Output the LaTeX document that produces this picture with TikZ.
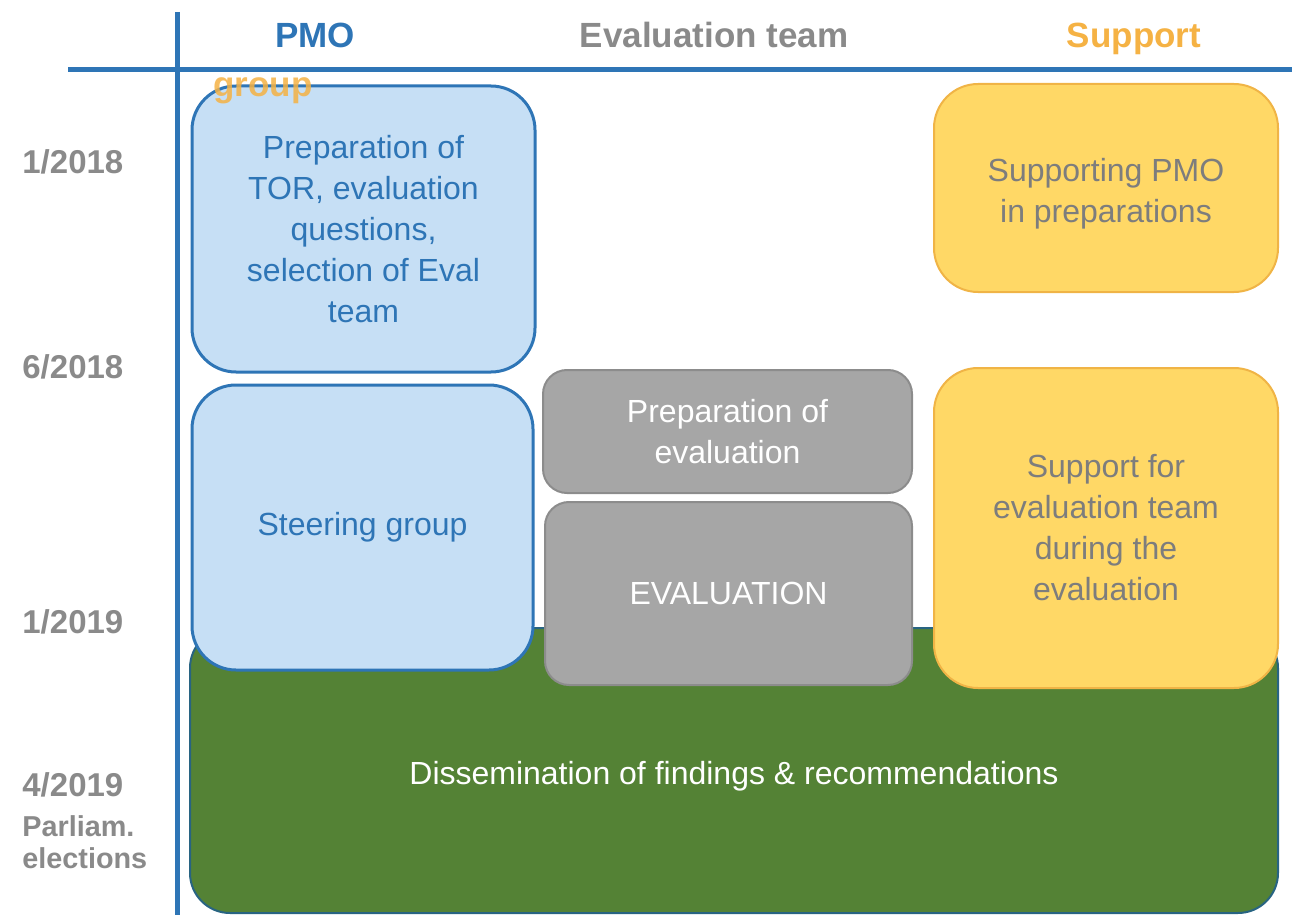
\documentclass[tikz,border=0pt]{standalone}
\usepackage{fontspec}
\setmainfont{Liberation Sans}
\usepackage{tikz}

\definecolor{pmoblue}{RGB}{46,117,182}
\definecolor{pmofill}{RGB}{198,223,245}
\definecolor{evalgray}{RGB}{166,166,166}
\definecolor{evaledge}{RGB}{140,140,140}
\definecolor{labelgray}{RGB}{138,138,138}
\definecolor{supfill}{RGB}{255,216,102}
\definecolor{supedge}{RGB}{240,180,70}
\definecolor{suporange}{RGB}{245,178,68}
\definecolor{supgray}{RGB}{125,125,125}
\definecolor{dissgreen}{RGB}{84,130,53}
\definecolor{dissedge}{RGB}{40,100,130}

\begin{document}
\begin{tikzpicture}[x=0.5pt,y=-0.5pt]
    \tikzset{box/.style={rounded corners=22pt, align=center, inner sep=0pt,
        font=\fontsize{16}{20.5}\selectfont}}
    \tikzset{pmobox/.style={box, fill=pmofill, draw=pmoblue, line width=1.5pt, text=pmoblue}}
    \tikzset{evalbox/.style={box, rounded corners=12pt, fill=evalgray, draw=evaledge, line width=1pt, text=white}}
    \tikzset{supbox/.style={box, fill=supfill, draw=supedge, line width=1pt, text=supgray}}
    \tikzset{dissbox/.style={box, rounded corners=20pt, fill=dissgreen, draw=dissedge, line width=1pt, text=white}}
    \tikzset{headlabel/.style={anchor=base, font=\fontsize{17.5}{20}\selectfont\bfseries, inner sep=0pt}}
    \tikzset{datelabel/.style={anchor=west, text=labelgray, inner sep=0pt, font=\fontsize{16.5}{20}\selectfont\bfseries}}
    \useasboundingbox (0,0) rectangle (1292,915);
    % axes
    \coordinate (hl) at (68,70);
    \coordinate (hr) at (1292,70);
    \coordinate (vt) at (177,12);
    \coordinate (vb) at (177,915);
    \draw[pmoblue, line width=2.5pt] (hl) -- (hr);
    \draw[pmoblue, line width=2.5pt] (vt) -- (vb);
    % column heads
    \node[headlabel, text=pmoblue] (pmo) at (315,48) {PMO};
    \node[headlabel, text=labelgray] (evalteam) at (714,48) {Evaluation team};
    \node[headlabel, text=suporange] (support) at (1134,48) {Support};
    % dates
    \node[datelabel] (d1) at (22,162) {1/2018};
    \node[datelabel] (d2) at (22,367) {6/2018};
    \node[datelabel] (d3) at (22,622) {1/2019};
    \node[datelabel] (d4) at (22,785) {4/2019};
    \node[datelabel, font=\fontsize{14.4}{16}\selectfont\bfseries] (parl) at (22,826) {Parliam.};
    \node[datelabel, font=\fontsize{14.4}{16}\selectfont\bfseries] (elect) at (22,858) {elections};
    % boxes
    \node[dissbox, minimum width=544pt, minimum height=142.5pt] (diss) at (734,770.5)
        {\rule{0pt}{17.5pt}Dissemination of findings \& recommendations};
    \node[pmobox, minimum width=171.5pt, minimum height=143pt] (tor) at (363.5,229)
        {Preparation of\\TOR, evaluation\\questions,\\selection of Eval\\team};
    \node[pmobox, minimum width=170.5pt, minimum height=142.5pt] (steer) at (362.5,527.5)
        {Steering group};
    \node[evalbox, minimum width=184.5pt, minimum height=61.5pt] (prep) at (727.5,431.5)
        {Preparation of\\evaluation};
    \node[evalbox, minimum width=183.5pt, minimum height=91.5pt] (evaluation) at (728.5,593.5)
        {EVALUATION};
    \node[supbox, minimum width=172pt, minimum height=104pt] (suppmo) at (1106,188)
        {\rule{0pt}{17.5pt}Supporting PMO\\in preparations};
    \node[supbox, minimum width=172pt, minimum height=160pt] (supeval) at (1106,528)
        {Support for\\evaluation team\\during the\\evaluation};
    \node[headlabel, text=suporange, text opacity=0.85] (group) at (263,97) {group};
\end{tikzpicture}
\end{document}
